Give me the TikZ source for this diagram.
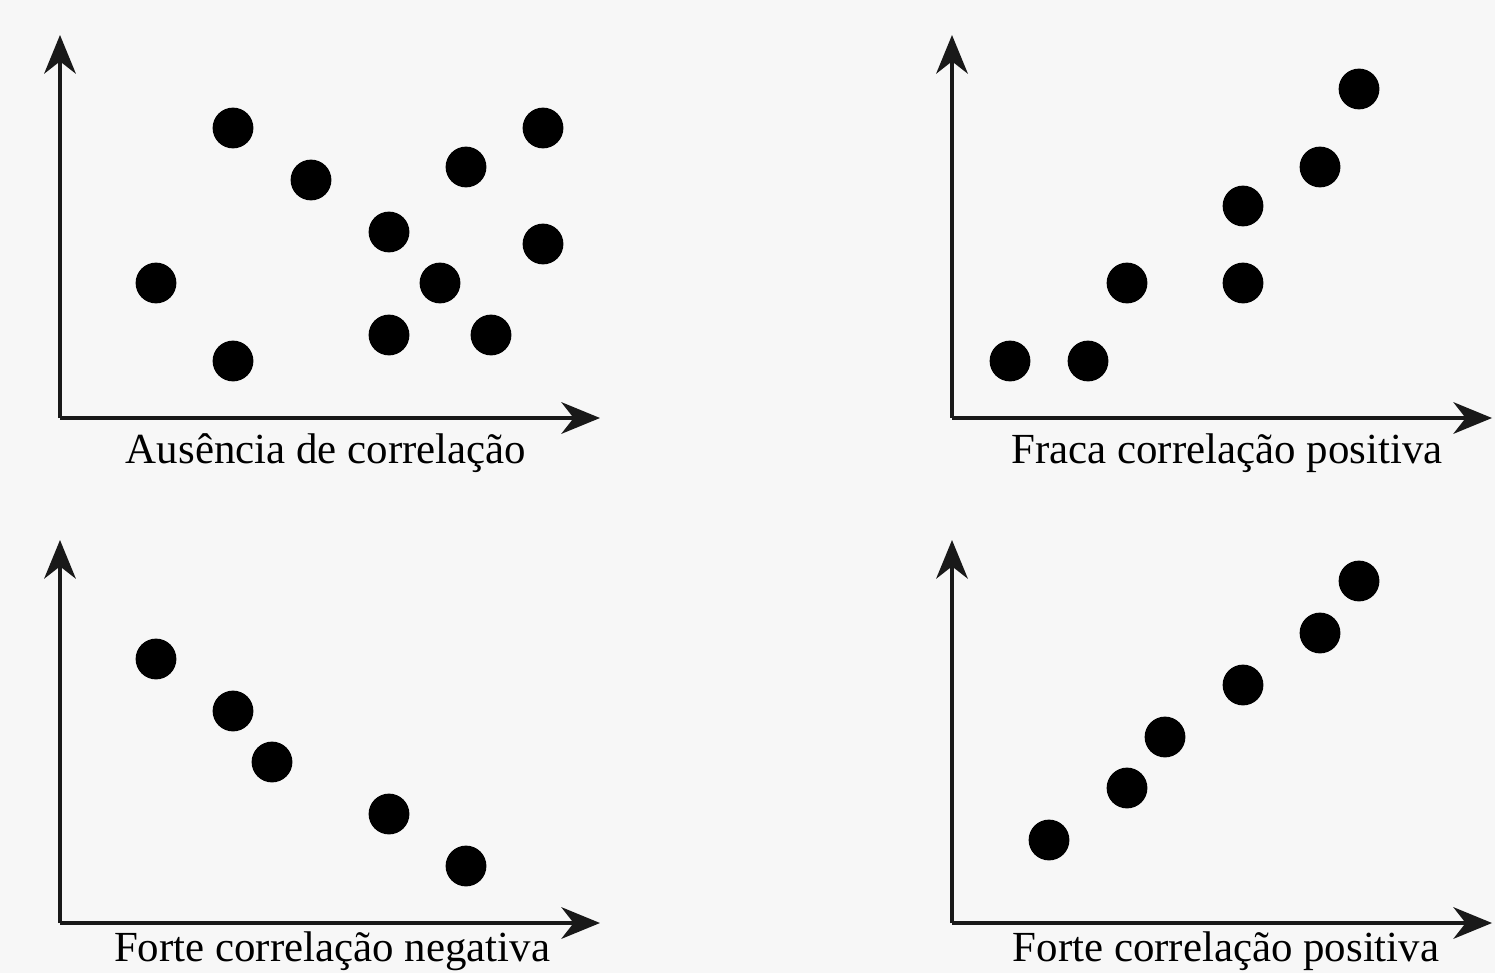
\documentclass[tikz,border=0pt]{standalone}
\usepackage{fontspec}
\setmainfont{Liberation Serif}
\usetikzlibrary{arrows.meta}
\definecolor{bg}{HTML}{F7F7F7}
\tikzset{
  dot/.style={circle,fill=black,inner sep=0pt,minimum size=11.6pt},
  axis/.style={line width=0.9pt,draw=black!90,-{Stealth[length=11pt,width=9pt,inset=3.5pt]}},
  lbl/.style={font=\fontsize{12.2pt}{14pt}\selectfont,inner sep=0pt,anchor=base}
}
\begin{document}
\begin{tikzpicture}[x=0.01cm,y=-0.01cm]
\fill[bg] (0,0) rectangle (1495,973);
\useasboundingbox (0,0) rectangle (1495,973);
% panel 1
\coordinate (o1) at (60,418);
\coordinate (y1) at (60,35);
\coordinate (x1) at (600,418);
\draw[axis] (o1) -- (y1);
\draw[axis] (o1) -- (x1);
\foreach \n/\p in {a/{233,128},b/{311,180},c/{389,232},d/{466,167},e/{543,128},f/{543,244},g/{156,283},h/{440,283},i/{233,361},j/{389,335},k/{491,335}}
  \node[dot] (p1\n) at (\p) {};
\node[lbl] (l1) at (326,463) {Ausência de correlação};
% panel 2
\coordinate (o2) at (952,418);
\coordinate (y2) at (952,35);
\coordinate (x2) at (1492,418);
\draw[axis] (o2) -- (y2);
\draw[axis] (o2) -- (x2);
\foreach \n/\p in {a/{1010,361},b/{1088,361},c/{1127,283},d/{1243,283},e/{1243,206},f/{1320,167},g/{1359,89}}
  \node[dot] (p2\n) at (\p) {};
\node[lbl] (l2) at (1227,463) {Fraca correlação positiva};
% panel 3
\coordinate (o3) at (60,923);
\coordinate (y3) at (60,540);
\coordinate (x3) at (600,923);
\draw[axis] (o3) -- (y3);
\draw[axis] (o3) -- (x3);
\foreach \n/\p in {a/{156,659},b/{233,711},c/{272,762},d/{389,814},e/{466,866}}
  \node[dot] (p3\n) at (\p) {};
\node[lbl] (l3) at (332,961) {Forte correlação negativa};
% panel 4
\coordinate (o4) at (952,923);
\coordinate (y4) at (952,540);
\coordinate (x4) at (1492,923);
\draw[axis] (o4) -- (y4);
\draw[axis] (o4) -- (x4);
\foreach \n/\p in {a/{1049,840},b/{1127,788},c/{1165,737},d/{1243,685},e/{1320,633},f/{1359,581}}
  \node[dot] (p4\n) at (\p) {};
\node[lbl] (l4) at (1226,961) {Forte correlação positiva};
\end{tikzpicture}
\end{document}
